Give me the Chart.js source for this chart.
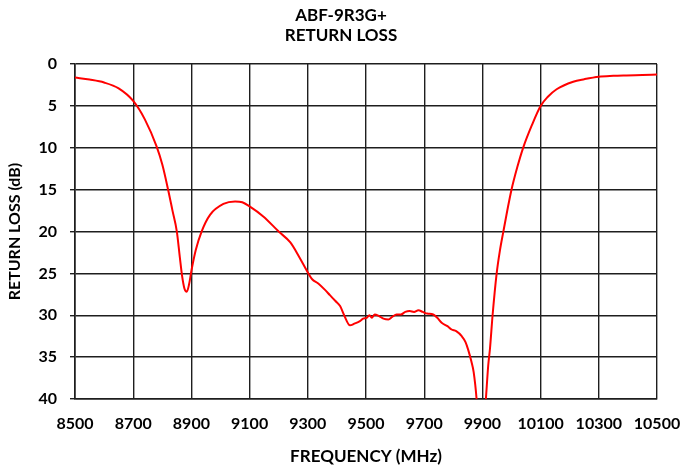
<!DOCTYPE html>
<html>
<head>
<meta charset="utf-8">
<script src="https://cdn.jsdelivr.net/npm/chart.js@4"></script>
<style>
  html, body { margin: 0; padding: 0; background: #fff; }
  #wrap { width: 682px; height: 470px; }
</style>
</head>
<body>
<div id="wrap"><canvas id="rl" width="682" height="470"></canvas></div>
<script>
// frequency (MHz) and return loss (dB)
const freqs = [8500, 8550, 8600, 8650, 8700, 8740, 8780, 8800, 8820, 8835, 8850, 8860, 8868, 8876, 8884,
  8892, 8901, 8915, 8935, 8964, 9010, 9050, 9075, 9100, 9147, 9200, 9240, 9270, 9302, 9315, 9336, 9360,
  9376, 9395, 9411, 9425, 9445, 9460, 9479, 9490, 9502, 9512, 9520, 9530, 9545, 9560, 9577, 9590, 9605,
  9620, 9635, 9650, 9665, 9680, 9695, 9710, 9731, 9745, 9760, 9780, 9794, 9810, 9829, 9842, 9851, 9862,
  9870, 9880, 9895, 9912, 9920, 9926, 9935, 9949, 9960, 9972, 9986, 10000, 10020, 10040, 10070, 10100,
  10125, 10155, 10212, 10250, 10300, 10350, 10395, 10450, 10500];
const returnLoss = [1.6, 1.85, 2.2, 2.9, 4.4, 6.6, 9.8, 12.0, 15.0, 17.5, 20.0, 23.0, 25.3, 26.8, 27.2,
  26.3, 24.5, 22.2, 20.0, 18.0, 16.7, 16.4, 16.5, 17.0, 18.2, 20.0, 21.3, 23.0, 25.0, 25.7, 26.2, 27.0,
  27.6, 28.3, 28.9, 30.0, 31.2, 31.0, 30.7, 30.4, 30.3, 30.0, 30.3, 29.9, 30.1, 30.4, 30.5, 30.2, 29.9,
  29.9, 29.6, 29.5, 29.6, 29.4, 29.6, 29.8, 29.9, 30.3, 30.9, 31.3, 31.7, 31.9, 32.5, 33.2, 34.1, 35.5,
  36.8, 40.0, 48, 40.0, 36.0, 34.0, 30.0, 25.0, 22.3, 20.0, 17.4, 15.0, 12.3, 10.0, 7.3, 5.0,
  3.9, 3.0, 2.1, 1.8, 1.5, 1.4, 1.35, 1.3, 1.25];

const titleLines = ['ABF-9R3G+', 'RETURN LOSS'];
const xTitle = 'FREQUENCY (MHz)';
const yTitle = 'RETURN LOSS (dB)';

const FONT = 'Lato, "Open Sans", sans-serif';
const gridCol = '#1e1e1e';

new Chart(document.getElementById('rl'), {
  type: 'line',
  data: {
    datasets: [{
      data: freqs.map((f, i) => ({x: f, y: returnLoss[i]})),
      borderColor: '#ff0000',
      borderWidth: 2,
      pointRadius: 0,
      cubicInterpolationMode: 'monotone',
      fill: false
    }]
  },
  options: {
    responsive: false,
    animation: false,
    layout: {padding: {left: 0, right: 0, top: 0, bottom: 0}},
    plugins: {
      legend: {display: false},
      tooltip: {enabled: false},
      title: {
        display: true,
        text: titleLines,
        color: '#000',
        font: {family: FONT, size: 17, weight: 'bold', lineHeight: 1.18},
        padding: {top: 5, bottom: 19}
      }
    },
    scales: {
      x: {
        type: 'linear',
        min: 8500, max: 10500,
        afterFit: s => { s.height = 71; s.paddingLeft = 0; s.paddingRight = 25; },
        ticks: {stepSize: 200, color: '#000', padding: 15, maxRotation: 0,
          callback: v => String(v),
          font: {family: FONT, size: 16, weight: 'bold'}},
        grid: {color: gridCol, lineWidth: 1.4, drawTicks: false},
        border: {color: gridCol, width: 1.6},
        title: {display: true, text: xTitle, color: '#000',
          font: {family: FONT, size: 17, weight: 'bold'}, padding: {top: 0, bottom: 3}}
      },
      y: {
        reverse: true,
        min: 0, max: 40,
        afterFit: s => { s.width = 75; },
        ticks: {stepSize: 5, color: '#000', padding: 13,
          font: {family: FONT, size: 16, weight: 'bold'}},
        grid: {color: gridCol, lineWidth: 1.4, tickLength: 5},
        border: {color: gridCol, width: 1.6},
        title: {display: true, text: yTitle, color: '#000',
          font: {family: FONT, size: 16, weight: 'bold'}, padding: {top: 5, bottom: 0}}
      }
    }
  }
});
</script>
</body>
</html>
